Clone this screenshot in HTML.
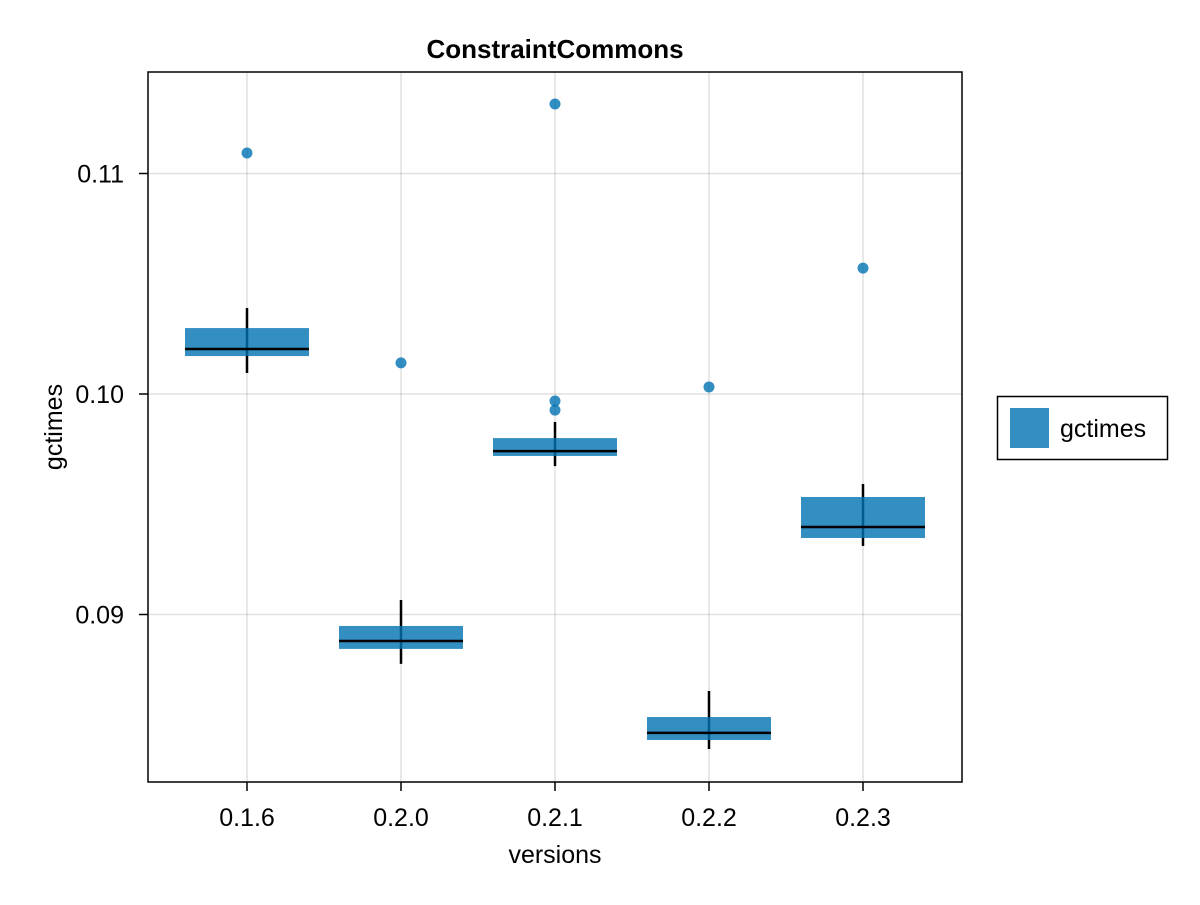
<!DOCTYPE html>
<html><head><meta charset="utf-8"><style>
body{margin:0;background:#fff;font-family:"Liberation Sans",sans-serif}
</style></head><body>
<svg id="chart" width="1200" height="900" xmlns="http://www.w3.org/2000/svg" font-family="Liberation Sans, sans-serif">
<rect width="1200" height="900" fill="#fff"/>
<g id="grid"></g>
<g id="boxes"></g>
<rect x="148" y="72" width="814" height="710" fill="none" stroke="#000" stroke-width="1.5"/>
<g id="ticks" font-size="25" fill="#000"></g>
<text x="555" y="58" text-anchor="middle" font-size="26" font-weight="bold">ConstraintCommons</text>
<text x="555" y="863" text-anchor="middle" font-size="25">versions</text>
<text transform="translate(62,427) rotate(-90)" text-anchor="middle" font-size="25">gctimes</text>
<g>
<rect x="997.5" y="396.5" width="170" height="63" fill="#fff" stroke="#000" stroke-width="1.5"/>
<rect x="1010" y="408" width="39" height="40" fill="rgba(0,114,178,0.8)"/>
<text x="1060" y="437" font-size="25">gctimes</text>
</g>
</svg>
<script>
const categories=["0.1.6","0.2.0","0.2.1","0.2.2","0.2.3"];
const q1=[0.10172,0.08844,0.09719,0.08431,0.09347];
const medians=[0.10204,0.0888,0.09741,0.08463,0.09397];
const q3=[0.10299,0.08948,0.098,0.08535,0.09533];
const whiskerLow=[0.10095,0.08776,0.09673,0.0839,0.09311];
const whiskerHigh=[0.1039,0.09066,0.09873,0.08653,0.09592];
const outliers=[[0.11093],[0.10141],[0.11315,0.09968,0.09927],[0.10032],[0.10571]];
const yTicks=[0.09,0.10,0.11];
const yTickLabels=["0.09","0.10","0.11"];
const NS="http://www.w3.org/2000/svg";
const y=v=>394-(v-0.10)*22050;
const x=i=>247+i*154;
const bw=124;
function mk(tag,attrs,parent){const e=document.createElementNS(NS,tag);for(const k in attrs)e.setAttribute(k,attrs[k]);parent.appendChild(e);return e;}
const grid=document.getElementById('grid'),boxes=document.getElementById('boxes'),ticks=document.getElementById('ticks');
yTicks.forEach((t,i)=>{
 const l=mk('line',{x1:148,x2:962,y1:y(t),y2:y(t),stroke:'#000','stroke-opacity':0.12,'stroke-width':1.5},grid);
 
 
 const tm=mk('line',{x1:139,x2:148,y1:y(t),y2:y(t),stroke:'#000','stroke-width':1.5},ticks);
 
 
 const tx=mk('text',{x:124,y:y(t)+9,'text-anchor':'end'},ticks);tx.textContent=yTickLabels[i];
 
 
});
categories.forEach((c,i)=>{
 const l=mk('line',{x1:x(i),x2:x(i),y1:72,y2:782,stroke:'#000','stroke-opacity':0.12,'stroke-width':1.5},grid);
 
 
 const tm=mk('line',{x1:x(i),x2:x(i),y1:782,y2:791,stroke:'#000','stroke-width':1.5},ticks);
 
 
 const tx=mk('text',{x:x(i),y:826,'text-anchor':'middle'},ticks);tx.textContent=c;
 
 
 const w=mk('line',{x1:x(i),x2:x(i),y1:y(whiskerHigh[i]),y2:y(whiskerLow[i]),stroke:'#000','stroke-width':2.5},boxes);
 
 
 const b=mk('rect',{x:x(i)-bw/2,y:y(q3[i]),width:bw,height:y(q1[i])-y(q3[i]),fill:'rgba(0,114,178,0.8)'},boxes);
 
 
 const m=mk('line',{x1:x(i)-bw/2,x2:x(i)+bw/2,y1:y(medians[i]),y2:y(medians[i]),stroke:'#000','stroke-width':2.5},boxes);
 
 
 outliers[i].forEach(o=>{
  const p=mk('circle',{cx:x(i),cy:y(o),r:5.5,fill:'rgba(0,114,178,0.8)'},boxes);
  
  
 });
});
</script>
</body></html>
